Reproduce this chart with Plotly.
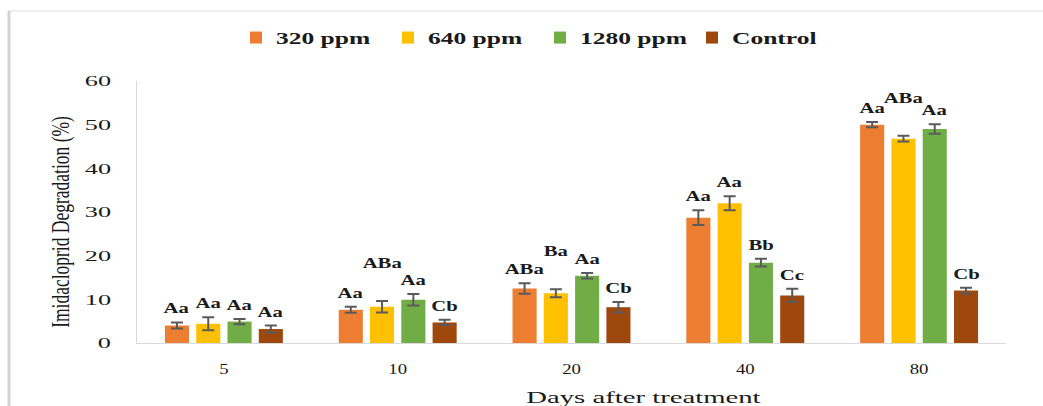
import json
import plotly.graph_objects as go

# Days after treatment (category axis)
days = ["5", "10", "20", "40", "80"]

# Mean imidacloprid degradation (%) per treatment
deg_320 = [4.0, 7.6, 12.5, 28.7, 50.0]
deg_640 = [4.4, 8.3, 11.4, 32.0, 46.8]
deg_1280 = [4.9, 9.9, 15.4, 18.4, 49.0]
deg_control = [3.2, 4.7, 8.2, 10.9, 12.0]

# Standard deviations
sd_320 = [0.7, 0.7, 1.2, 1.7, 0.6]
sd_640 = [1.5, 1.3, 0.9, 1.6, 0.65]
sd_1280 = [0.6, 1.3, 0.65, 0.9, 1.1]
sd_control = [0.8, 0.6, 1.2, 1.5, 0.65]

# Significance letters
letters_320 = ["Aa", "Aa", "ABa", "Aa", "Aa"]
letters_640 = ["Aa", "ABa", "Ba", "Aa", "ABa"]
letters_1280 = ["Aa", "Aa", "Aa", "Bb", "Aa"]
letters_control = ["Aa", "Cb", "Cb", "Cc", "Cb"]

series_names = ["320 ppm", "640 ppm", "1280 ppm", "Control"]

# ---- styling / geometry ----
W, H = 1043, 406
ML, MR, MT, MB = 137, 37, 81, 63
PW, PH = W - ML - MR, H - MT - MB
BARGAP, BARGROUPGAP = 0.28, 0.23
colors = ["#ED7D31", "#FFC000", "#70AD47", "#9E480E"]
SERIF = "Liberation Serif, Times New Roman, serif"
INK = "#1a1a1a"


def px_x(px):
    return (px - ML) / PW


def px_y(py):
    return (H - MB - py) / PH


series = [
    (series_names[0], deg_320, sd_320, letters_320),
    (series_names[1], deg_640, sd_640, letters_640),
    (series_names[2], deg_1280, sd_1280, letters_1280),
    (series_names[3], deg_control, sd_control, letters_control),
]

fig = go.Figure()
for (name, vals, sds, _), col in zip(series, colors):
    fig.add_trace(go.Bar(
        name=name, x=days, y=vals,
        marker=dict(color=col, line=dict(width=0)),
        error_y=dict(type="data", array=sds, visible=True,
                     color="#5a5a5a", thickness=2, width=6),
    ))

# letters above each error bar, shifted to the bar's slot in the group
slot_px = PW / len(days) * (1 - BARGAP) / len(series)
raised = {(1, "10"), (1, "20"), (1, "80")}
annotations = []
for si, (name, vals, sds, lets) in enumerate(series):
    for ci, d in enumerate(days):
        annotations.append(dict(
            x=ci, y=vals[ci] + sds[ci], xref="x", yref="y",
            text=lets[ci], showarrow=False,
            xshift=(si - 1.5) * slot_px,
            yshift=38 if (si, d) in raised else 14,
            yanchor="middle",
            font=dict(family=SERIF, size=15, color=INK, weight="bold"),
        ))

annotations.append(dict(
    x=px_x(643), y=px_y(397), xref="paper", yref="paper",
    text="Days after treatment", showarrow=False,
    xanchor="center", yanchor="middle",
    font=dict(family=SERIF, size=17.5, color=INK),
))

shapes = [
    dict(type="line", xref="paper", yref="paper",
         x0=px_x(8), x1=px_x(W), y0=px_y(11), y1=px_y(11),
         line=dict(color="#dedede", width=1)),
    dict(type="line", xref="paper", yref="paper",
         x0=px_x(9), x1=px_x(9), y0=px_y(11), y1=px_y(H),
         line=dict(color="#d4d4d4", width=3)),
]

fig.update_layout(
    width=W, height=H,
    margin=dict(l=ML, r=MR, t=MT, b=MB, autoexpand=False),
    paper_bgcolor="white", plot_bgcolor="white",
    barmode="group", bargap=BARGAP, bargroupgap=BARGROUPGAP,
    font=dict(family=SERIF, color=INK),
    showlegend=True,
    legend=dict(
        orientation="h", x=px_x(236), xanchor="left",
        y=px_y(38), yanchor="middle",
        font=dict(family=SERIF, size=17, color=INK, weight="bold"),
        entrywidth=107, entrywidthmode="pixels",
        itemclick=False, bgcolor="rgba(0,0,0,0)",
    ),
    xaxis=dict(
        type="category", range=[-0.5, len(days) - 0.5],
        showline=True, linecolor="#d9d9d9", linewidth=1,
        showgrid=False, ticks="", ticklabelstandoff=12,
        tickfont=dict(family=SERIF, size=15, color=INK),
    ),
    yaxis=dict(
        range=[0, 60], dtick=10, tick0=0, showline=True,
        linecolor="#d9d9d9", linewidth=1, showgrid=False, zeroline=False,
        ticks="", ticklabelstandoff=22,
        tickfont=dict(family=SERIF, size=15, color=INK),
        title=dict(text="Imidacloprid Degradation (%)",
                   font=dict(family=SERIF, size=17.5, color=INK), standoff=14),
    ),
    annotations=annotations,
    shapes=shapes,
)

# Wide, Office-style lettering: stretch glyphs horizontally per element type
stretch_rules = [
    [".ytick text", 1.75, None, None],
    [".xtick text", 1.25, None, None],
    [".legendtext", 1.5, None, None],
    [".annotation-text", 1.38, None, "Days after treatment"],
    [".annotation-text", 1.64, "Days after treatment", None],
]
post = """
var gd = document.getElementById('{plot_id}');
var rules = %s;
rules.forEach(function (r) {
  gd.querySelectorAll(r[0]).forEach(function (t) {
    if (r[2] && t.textContent !== r[2]) return;
    if (r[3] && t.textContent === r[3]) return;
    var w = t.getComputedTextLength();
    if (w > 0) {
      t.setAttribute('lengthAdjust', 'spacingAndGlyphs');
      t.setAttribute('textLength', (w * r[1]).toFixed(2));
    }
  });
});
gd.querySelectorAll('.ytitle').forEach(function (t) {
  var cx = t.getAttribute('x'), cy = t.getAttribute('y');
  var tr = t.getAttribute('transform') || '';
  t.setAttribute('transform', 'translate(-7,10) ' + tr + ' translate(' + cx + ',' + cy + ') scale(1,1.45) translate(' + (-cx) + ',' + (-cy) + ')');
});
""" % json.dumps(stretch_rules)

fig.write_html("out.html", post_script=post)
